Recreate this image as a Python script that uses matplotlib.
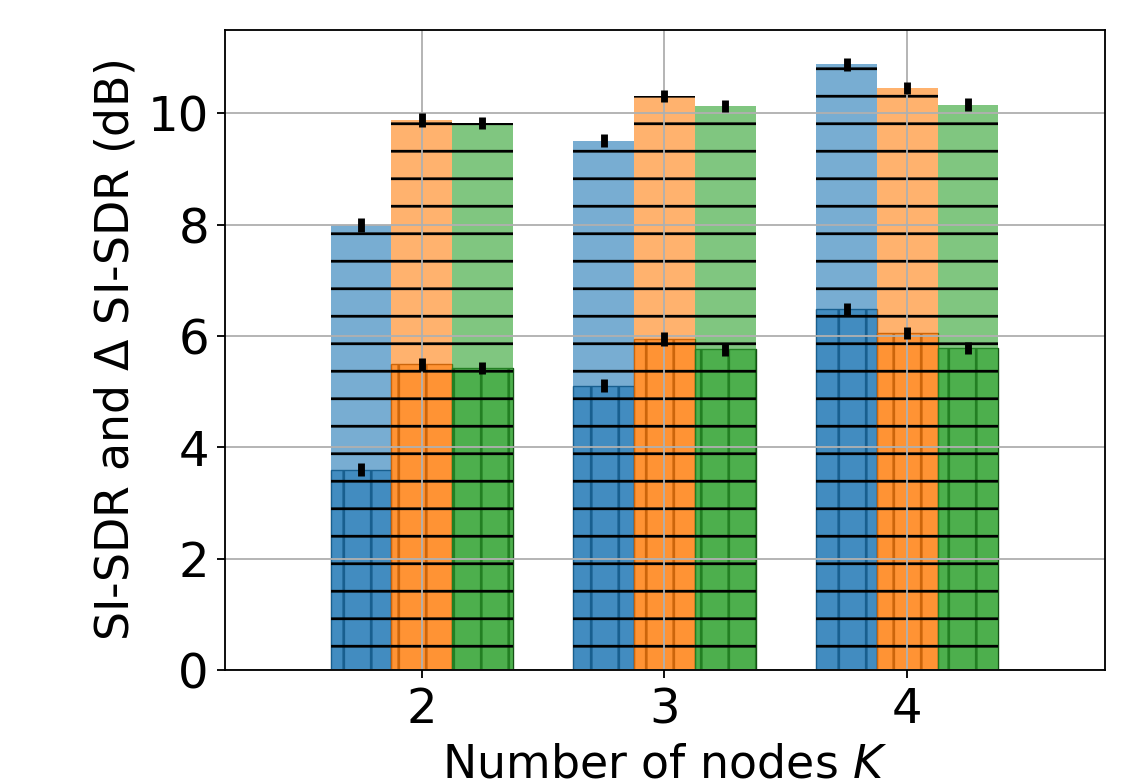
import matplotlib.pyplot as plt
import matplotlib.colors as mcolors
import numpy as np

plt.rcParams['hatch.linewidth'] = 1.2

# Data
nodes = [2, 3, 4]
series_colors = ['C0', 'C1', 'C2']

# total SI-SDR (light bars)
sisdr = [
    [8.00, 9.51, 10.88],
    [9.88, 10.32, 10.46],
    [9.83, 10.14, 10.16],
]
sisdr_err = [
    [0.13, 0.12, 0.11],
    [0.12, 0.11, 0.11],
    [0.11, 0.11, 0.11],
]

# delta SI-SDR (dark bars)
delta = [
    [3.60, 5.11, 6.48],
    [5.49, 5.95, 6.06],
    [5.43, 5.76, 5.78],
]
delta_err = [
    [0.12, 0.12, 0.11],
    [0.12, 0.12, 0.11],
    [0.11, 0.11, 0.11],
]

width = 0.25
offsets = [-width, 0, width]
x = np.array(nodes, dtype=float)

fig, ax = plt.subplots(figsize=(1122 / 165, 783 / 165), dpi=165)
fig.subplots_adjust(left=0.2005, right=0.985, top=0.9617, bottom=0.1443)

for i, c in enumerate(series_colors):
    rgb = mcolors.to_rgb(c)
    face = (*rgb, 0.6)
    dark_edge = tuple(v * 0.5 for v in rgb) + (1.0,)
    # delta bars underneath, vertical hatch
    ax.bar(x + offsets[i], delta[i], width, color=face, edgecolor=dark_edge,
           linewidth=0.6, hatch='|', zorder=1)
    # light bars on top, horizontal hatch
    ax.bar(x + offsets[i], sisdr[i], width, color=face, edgecolor='k',
           linewidth=0, hatch='-', zorder=1)
    ax.errorbar(x + offsets[i], sisdr[i], yerr=sisdr_err[i], fmt='none',
                ecolor='k', elinewidth=3, capsize=0, zorder=3)
    ax.errorbar(x + offsets[i], delta[i], yerr=delta_err[i], fmt='none',
                ecolor='k', elinewidth=3, capsize=0, zorder=3)

ax.set_xlim(1.19, 4.815)
ax.set_ylim(0, 11.5)
ax.set_xticks(nodes)
ax.set_yticks([0, 2, 4, 6, 8, 10])
ax.grid(True)
ax.tick_params(labelsize=21)
ax.set_xlabel('Number of nodes $K$', fontsize=20)
ax.set_ylabel(r'SI-SDR and $\Delta$ SI-SDR (dB)', fontsize=20)

fig.savefig('out.png', dpi=165)
